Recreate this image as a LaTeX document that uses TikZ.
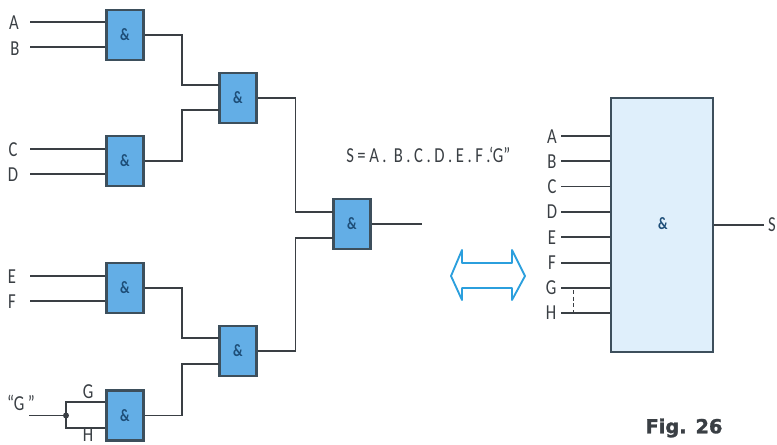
\documentclass[tikz,border=0pt]{standalone}
\usepackage{fontspec}
\setmainfont[FakeStretch=0.78]{Carlito}
\newfontfamily\figfont[FakeBold=1.5]{DejaVu Sans}
\usetikzlibrary{calc}
\definecolor{gatefill}{HTML}{63AEE6}
\definecolor{gateline}{HTML}{3D4F5C}
\definecolor{blockfill}{HTML}{DFEFFB}
\definecolor{arrowblue}{HTML}{2B9FDD}
\definecolor{wirecol}{HTML}{3A3F44}
\definecolor{ampcol}{HTML}{1E4E78}
\tikzset{
  gate/.style={draw=gateline, fill=gatefill, line width=1.9pt, minimum width=28pt, minimum height=37.5pt, inner sep=0pt, font=\bfseries\fontsize{13}{13}\selectfont, text=ampcol},
  wire/.style={draw=wirecol, line width=1pt},
  lbl/.style={inner sep=0pt, text=wirecol, font=\fontsize{16}{16}\selectfont}
}
\begin{document}
\begin{tikzpicture}[x=0.75pt, y=-0.75pt]
\useasboundingbox (0,0) rectangle (777,445);

\node[gate] (gAB) at (125,35){\&};
\node[gate] (gCD) at (125,161){\&};
\node[gate] (gEF) at (125,288){\&};
\node[gate] (gGH) at (125,415.5){\&};
\node[gate] (gTop) at (238,98){\&};
\node[gate] (gBot) at (238,351){\&};
\node[gate] (gOut) at (352,224){\&};

\node[lbl] (lA) at (14,23){A};
\node[lbl] (lB) at (15,49){B};
\node[lbl] (lC) at (13,150){C};
\node[lbl] (lD) at (13,175){D};
\node[lbl] (lE) at (12,277){E};
\node[lbl] (lF) at (12,302){F};
\node[lbl] (lQ) at (21,403){``G\,''};
\node[lbl] (lG) at (88,392){G};
\node[lbl] (lH) at (88,435){H};

\coordinate (a0) at (30,22);
\coordinate (b0) at (30,47);
\coordinate (c0) at (30,149);
\coordinate (d0) at (30,174);
\coordinate (e0) at (30,276);
\coordinate (f0) at (30,301);
\coordinate (q0) at (29,415.5);
\coordinate (q1) at (66,415.5);
\coordinate (g1) at (66,402);
\coordinate (h1) at (66,428);
\coordinate (ti1) at (219,85);
\coordinate (ti2) at (219,110);
\coordinate (bi1) at (219,338);
\coordinate (bi2) at (219,364);
\coordinate (oi1) at (333,212);
\coordinate (oi2) at (333,238);
\coordinate (o0) at (422,224);

\draw[wire] (a0) -- (a0 -| gAB.west);
\draw[wire] (b0) -- (b0 -| gAB.west);
\draw[wire] (c0) -- (c0 -| gCD.west);
\draw[wire] (d0) -- (d0 -| gCD.west);
\draw[wire] (e0) -- (e0 -| gEF.west);
\draw[wire] (f0) -- (f0 -| gEF.west);
\draw[wire] (q0) -- (q1);
\draw[wire] (g1 -| gGH.west) -- (g1) -- (h1) -- (h1 -| gGH.west);
\fill[wirecol] (q1) circle (3);

\draw[wire] (gAB.east) -| ($(gAB.east)!.5!(ti1)$) |- (ti1);
\draw[wire] (gCD.east) -| ($(gCD.east)!.5!(ti2)$) |- (ti2);
\draw[wire] (gEF.east) -| ($(gEF.east)!.5!(bi1)$) |- (bi1);
\draw[wire] (gGH.east) -| ($(gGH.east)!.5!(bi2)$) |- (bi2);
\draw[wire] (gTop.east) -| ($(gTop.east)!.5!(oi1)$) |- (oi1);
\draw[wire] (gBot.east) -| ($(gBot.east)!.5!(oi2)$) |- (oi2);
\draw[wire] (gOut.east) -- (o0);

\node[lbl, anchor=west] (eqn) at (346,155){S\,=\,A\,.\,\,B\,.\,C\,.\,D\,.\,E\,.\,F\,.`G''};

% double arrow
\draw[draw=arrowblue, line width=1.4pt, line join=round] (451,276) -- (462,250) -- (462,263) -- (512,263) -- (512,250) -- (525,276) -- (512,300) -- (512,288) -- (462,288) -- (462,300) -- cycle;

% right block
\node[gate, fill=blockfill, line width=2.2pt, minimum width=76.5pt, minimum height=190.5pt] (block) at (662,225){};
\node[inner sep=0pt, text=ampcol, font=\bfseries\fontsize{13}{13}\selectfont] (blockamp) at (663,224){\&};

\node[lbl] (rA) at (552,137){A};
\node[lbl] (rB) at (552,162){B};
\node[lbl] (rC) at (552,187){C};
\node[lbl] (rD) at (552,212){D};
\node[lbl] (rE) at (552,238){E};
\node[lbl] (rF) at (552,263){F};
\node[lbl] (rG) at (551,288){G};
\node[lbl] (rH) at (551,313){H};
\node[lbl] (rS) at (772,225){S};

\coordinate (ra) at (561,136);
\coordinate (rb) at (561,161);
\coordinate (rc) at (561,186.5);
\coordinate (rd) at (561,212);
\coordinate (re) at (561,237);
\coordinate (rf) at (561,263);
\coordinate (rg) at (561,288);
\coordinate (rh) at (561,313);
\coordinate (rs) at (764,225);
\coordinate (dg) at (573,290);
\coordinate (dh) at (573,313);

\draw[wire] (ra) -- (ra -| block.west);
\draw[wire] (rb) -- (rb -| block.west);
\draw[wire] (rc) -- (rc -| block.west);
\draw[wire] (rd) -- (rd -| block.west);
\draw[wire] (re) -- (re -| block.west);
\draw[wire] (rf) -- (rf -| block.west);
\draw[wire] (rg) -- (rg -| block.west);
\draw[wire] (rh) -- (rh -| block.west);
\draw[wire] (block.east |- rs) -- (rs);
\draw[wire, line width=.7pt, densely dashed] (dg) -- (dh);

\node[inner sep=0pt, text=wirecol, font=\figfont\bfseries\fontsize{14.5}{14.5}\selectfont] (figlbl) at (684,428){Fig. 26};
\end{tikzpicture}
\end{document}
